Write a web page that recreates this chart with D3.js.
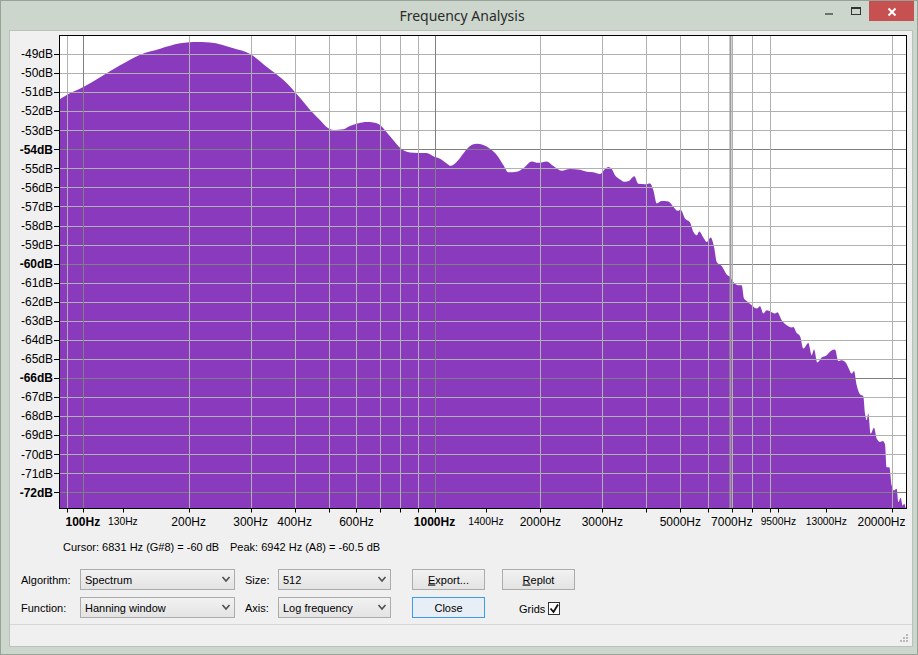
<!DOCTYPE html>
<html>
<head>
<meta charset="utf-8">
<script src="https://cdn.jsdelivr.net/npm/d3@7"></script>
<style>
body { margin: 0; background: #ccd6cc; }
svg { display: block; font-family: "Liberation Sans", Arial, sans-serif; }
</style>
</head>
<body>
<script>
var width = 918;
var height = 655;

// spectrum: frequency (Hz) and level (dB)
var freqs = [86.13, 90, 100, 112, 128, 145, 166, 189, 206, 230, 268, 299, 333, 372, 415, 443, 473, 499, 516, 551,
  575, 607, 641, 670, 700, 731, 764, 798, 834, 870, 950, 992, 1037, 1083, 1112, 1157, 1208, 1262, 1318, 1377,
  1438, 1503, 1569, 1621, 1713, 1789, 1890, 1973, 2084, 2177, 2300, 2428, 2593, 2709, 2829, 2956, 3054, 3120,
  3190, 3260, 3369, 3481, 3580, 3699, 3797, 3967, 4100, 4189, 4283, 4426, 4622, 4776, 4903, 5012, 5156, 5328,
  5443, 5565, 5660, 5811, 5943, 6100, 6233, 6344, 6555, 6773, 6921, 7072, 7307, 7472, 7586, 7722, 7977, 8243,
  8423, 8607, 8802, 9094, 9293, 9433, 9709, 10032, 10367, 10475, 10711, 10945, 11185, 11557, 11815, 11996,
  12256, 12616, 13036, 13380, 13764, 14062, 14380, 14790, 15015, 15351, 15585, 15864, 16212, 16563, 16751,
  16937, 17113, 17387, 17767, 18080, 18476, 18807, 19091, 19307, 19641, 19951, 20252, 20614, 20828, 21162,
  21440, 21664, 21909, 22050];
var levels = [-51.36, -51.15, -50.75, -50.22, -49.58, -49.05, -48.72, -48.44, -48.37, -48.39, -48.70, -49.00,
  -49.67, -50.37, -51.31, -51.94, -52.47, -52.90, -52.99, -52.95, -52.78, -52.64, -52.57, -52.59, -52.73,
  -53.11, -53.52, -53.92, -54.13, -54.18, -54.20, -54.36, -54.50, -54.74, -54.87, -54.66, -54.22, -53.83,
  -53.71, -53.78, -53.97, -54.30, -54.83, -55.21, -55.18, -55.00, -54.64, -54.71, -54.64, -54.88, -55.13,
  -55.04, -55.08, -55.18, -55.21, -55.30, -55.04, -54.93, -55.04, -55.36, -55.58, -55.71, -55.65, -55.42,
  -55.81, -55.83, -55.79, -56.14, -56.84, -56.72, -56.74, -57.02, -57.23, -57.19, -57.63, -57.84, -58.33,
  -58.51, -58.31, -58.63, -58.86, -58.63, -59.12, -59.91, -60.13, -60.57, -60.70, -60.96, -61.13, -61.13,
  -61.83, -61.96, -62.18, -62.36, -62.24, -62.62, -62.45, -62.55, -62.62, -62.55, -62.97, -63.23, -63.35,
  -63.32, -63.64, -63.80, -64.46, -64.16, -64.81, -64.51, -65.19, -64.93, -64.81, -64.58, -64.51, -65.11,
  -65.07, -65.21, -65.45, -65.77, -65.63, -66.38, -66.86, -66.96, -67.87, -68.22, -67.87, -68.92, -68.61,
  -69.18, -69.36, -69.31, -69.48, -70.68, -70.68, -71.64, -71.90, -71.82, -72.51, -72.28, -72.69, -72.60,
  -72.86, -72.90];

var dbTicks = [-49, -50, -51, -52, -53, -54, -55, -56, -57, -58, -59, -60, -61, -62, -63, -64, -65, -66,
  -67, -68, -69, -70, -71, -72];
var dbMajor = [-54, -60, -66, -72];

var gridFreqs = [90, 200, 300, 400, 500, 600, 700, 800, 900, 2000, 3000, 4000, 5000, 6000, 7000, 8000, 9000, 20000];
var gridMajorFreqs = [100, 1000];
var tickFreqs = [90, 100, 130, 200, 300, 400, 500, 600, 700, 800, 900, 1000, 1400, 2000, 3000, 4000, 5000,
  6000, 7000, 8000, 9000, 9500, 13000, 20000];
var labelFreqs = [100, 130, 200, 300, 400, 600, 1000, 1400, 2000, 3000, 5000, 7000, 9500, 13000, 20000];
var labelKinds = ["bold", "small", "normal", "normal", "normal", "normal", "bold", "small", "normal",
  "normal", "normal", "normal", "small", "small", "normal"];

var peakFreq = 6942;

var spectrum = freqs.map(function(f, i) { return {f: f, db: levels[i]}; });

var svg = d3.select("body").append("svg")
  .attr("width", width)
  .attr("height", height);

var defs = svg.append("defs");
var grad = defs.append("linearGradient").attr("id", "btn").attr("x1", 0).attr("y1", 0).attr("x2", 0).attr("y2", 1);
grad.append("stop").attr("offset", "0%").attr("stop-color", "#f2f2f2");
grad.append("stop").attr("offset", "100%").attr("stop-color", "#e3e3e3");

// ---- window frame
svg.append("rect").attr("x", 0.5).attr("y", 0.5).attr("width", width - 1).attr("height", height - 1)
  .attr("fill", "#ccd6cc").attr("stroke", "#98a398");
svg.append("rect").attr("x", 9.5).attr("y", 30.5).attr("width", 903).attr("height", 616)
  .attr("fill", "#f0f0f0").attr("stroke", "#b9c2b9");

svg.append("text").attr("x", 462).attr("y", 21).attr("text-anchor", "middle")
  .attr("font-size", 14).attr("fill", "#2b2b2b")
  .attr("font-family", "'Noto Sans', 'Liberation Sans', sans-serif")
  .text("Frequency Analysis");

// title bar buttons
svg.append("rect").attr("x", 825).attr("y", 13).attr("width", 8).attr("height", 2).attr("fill", "#6b746b");
svg.append("rect").attr("x", 851.5).attr("y", 7.5).attr("width", 9).attr("height", 7)
  .attr("fill", "none").attr("stroke", "#333");
svg.append("rect").attr("x", 851).attr("y", 7).attr("width", 10).attr("height", 2).attr("fill", "#333");
svg.append("rect").attr("x", 869).attr("y", 1).attr("width", 45).attr("height", 20).attr("fill", "#c75050");
svg.append("path").attr("d", "M888.5,8.5L895.5,15.5M895.5,8.5L888.5,15.5")
  .attr("stroke", "#fff").attr("stroke-width", 2);

// ---- plot
var plotL = 59.5, plotR = 906.5, plotT = 35.5, plotB = 508.5;

var x = d3.scaleLog().domain([86.13, 22050]).range([60, 907]);
var y = d3.scaleLinear().domain([-49, -72]).range([54, 492.3]);

defs.append("clipPath").attr("id", "plotclip").append("rect")
  .attr("x", plotL).attr("y", plotT).attr("width", plotR - plotL).attr("height", plotB - plotT);

svg.append("rect").attr("x", plotL).attr("y", plotT).attr("width", plotR - plotL).attr("height", plotB - plotT)
  .attr("fill", "#fff");

var plot = svg.append("g").attr("clip-path", "url(#plotclip)");

var area = d3.area()
  .x(function(d) { return x(d.f); })
  .y0(plotB)
  .y1(function(d) { return y(d.db); })
  .curve(d3.curveMonotoneX);

plot.append("path").datum(spectrum).attr("d", area).attr("fill", "#8a3bbd");

// grids
plot.selectAll(".hgrid").data(dbTicks).enter().append("line")
  .attr("x1", plotL).attr("x2", plotR)
  .attr("y1", function(d) { return Math.round(y(d)) + 0.5; })
  .attr("y2", function(d) { return Math.round(y(d)) + 0.5; })
  .attr("stroke", function(d) { return dbMajor.indexOf(d) >= 0 ? "#7f7f7f" : "#b1b1b1"; });

plot.selectAll(".vgrid").data(gridFreqs).enter().append("line")
  .attr("x1", function(d) { return Math.round(x(d)) + 0.5; })
  .attr("x2", function(d) { return Math.round(x(d)) + 0.5; })
  .attr("y1", plotT).attr("y2", plotB)
  .attr("stroke", "#b1b1b1");

plot.selectAll(".vgridmaj").data(gridMajorFreqs).enter().append("line")
  .attr("x1", function(d) { return Math.round(x(d)) + 0.5; })
  .attr("x2", function(d) { return Math.round(x(d)) + 0.5; })
  .attr("y1", plotT).attr("y2", plotB)
  .attr("stroke", "#7f7f7f");

// peak / cursor marker
plot.append("line")
  .attr("x1", x(peakFreq)).attr("x2", x(peakFreq))
  .attr("y1", plotT).attr("y2", plotB)
  .attr("stroke", "#9c9c9c").attr("stroke-width", 2);

svg.append("rect").attr("x", plotL).attr("y", plotT).attr("width", plotR - plotL).attr("height", plotB - plotT)
  .attr("fill", "none").attr("stroke", "#000");

// y axis
var yAxis = svg.append("g");
yAxis.selectAll("line").data(dbTicks).enter().append("line")
  .attr("x1", 54).attr("x2", plotL)
  .attr("y1", function(d) { return Math.round(y(d)) + 0.5; })
  .attr("y2", function(d) { return Math.round(y(d)) + 0.5; })
  .attr("stroke", "#000");
yAxis.selectAll("text").data(dbTicks).enter().append("text")
  .attr("x", 53).attr("y", function(d) { return y(d); })
  .attr("dy", "0.36em").attr("text-anchor", "end")
  .attr("font-size", 12)
  .attr("font-weight", function(d) { return dbMajor.indexOf(d) >= 0 ? "bold" : "normal"; })
  .text(function(d) { return d + "dB"; });

// x axis
var xAxis = svg.append("g");
xAxis.selectAll("line").data(tickFreqs).enter().append("line")
  .attr("x1", function(d) { return Math.round(x(d)) + 0.5; })
  .attr("x2", function(d) { return Math.round(x(d)) + 0.5; })
  .attr("y1", plotB).attr("y2", plotB + 4)
  .attr("stroke", "#000");
xAxis.selectAll("text").data(labelFreqs).enter().append("text")
  .attr("x", function(d) { return x(d); })
  .attr("y", function(d, i) { return labelKinds[i] == "small" ? 524.5 : 526; })
  .attr("text-anchor", "middle")
  .attr("font-size", function(d, i) { return labelKinds[i] == "small" ? 10.3 : 12; })
  .attr("font-weight", function(d, i) { return labelKinds[i] == "bold" ? "bold" : "normal"; })
  .text(function(d) { return d + "Hz"; })
  .each(function(d) {
    // keep the last label inside the plot, like the ruler does
    var w = this.getComputedTextLength();
    if (x(d) + w / 2 > plotR) d3.select(this).attr("x", plotR - 1 - w / 2);
  });

// ---- status line
svg.append("text").attr("x", 63).attr("y", 551).attr("font-size", 11).attr("fill", "#000")
  .text("Cursor: 6831 Hz (G#8) = -60 dB");
svg.append("text").attr("x", 230).attr("y", 551).attr("font-size", 11).attr("fill", "#000")
  .text("Peak: 6942 Hz (A8) = -60.5 dB");

// ---- controls
var ui = svg.append("g").attr("font-size", 11).attr("fill", "#000");

function label(tx, ty, t) {
  ui.append("text").attr("x", tx).attr("y", ty).text(t);
}
function combo(bx, by, bw, t) {
  ui.append("rect").attr("x", bx + 0.5).attr("y", by + 0.5).attr("width", bw).attr("height", 20)
    .attr("fill", "url(#btn)").attr("stroke", "#acacac");
  ui.append("text").attr("x", bx + 5).attr("y", by + 14.5).text(t);
  var cx = bx + bw - 8, cy = by + 10;
  ui.append("path").attr("d", "M" + (cx - 3.5) + "," + (cy - 2) + "L" + cx + "," + (cy + 2) + "L" + (cx + 3.5) + "," + (cy - 2))
    .attr("fill", "none").attr("stroke", "#505050").attr("stroke-width", 1.6);
}
function button(bx, by, bw, first, rest, focus) {
  ui.append("rect").attr("x", bx + 0.5).attr("y", by + 0.5).attr("width", bw).attr("height", 20)
    .attr("fill", focus ? "#e8eef5" : "url(#btn)").attr("stroke", focus ? "#3c9bea" : "#acacac");
  var t = ui.append("text").attr("x", bx + bw / 2 + 0.5).attr("y", by + 14.5).attr("text-anchor", "middle");
  if (first) t.append("tspan").attr("text-decoration", "underline").text(first);
  t.append("tspan").text(rest);
}

label(21, 584, "Algorithm:");
combo(80, 569, 154, "Spectrum");
label(245, 584, "Size:");
combo(278, 569, 112, "512");
button(412, 569, 72, "E", "xport...", false);
button(502, 569, 72, "R", "eplot", false);

label(21, 612, "Function:");
combo(80, 597, 154, "Hanning window");
label(245, 612, "Axis:");
combo(278, 597, 112, "Log frequency");
button(412, 597, 72, "", "Close", true);
label(519, 613, "Grids");
ui.append("rect").attr("x", 548.5).attr("y", 602.5).attr("width", 11).attr("height", 12)
  .attr("fill", "#fff").attr("stroke", "#333");
ui.append("path").attr("d", "M550.5,608.5L553.5,612L558,604.5")
  .attr("fill", "none").attr("stroke", "#111").attr("stroke-width", 1.8);

// separator and size grip
svg.append("line").attr("x1", 10).attr("x2", 912).attr("y1", 624.5).attr("y2", 624.5).attr("stroke", "#d7d7d7");
var grip = [[906, 634], [903, 637], [906, 637], [900, 640], [903, 640], [906, 640]];
svg.selectAll(".grip").data(grip).enter().append("rect")
  .attr("x", function(d) { return d[0]; }).attr("y", function(d) { return d[1]; })
  .attr("width", 2).attr("height", 2).attr("fill", "#b8b8b8");
</script>
</body>
</html>
